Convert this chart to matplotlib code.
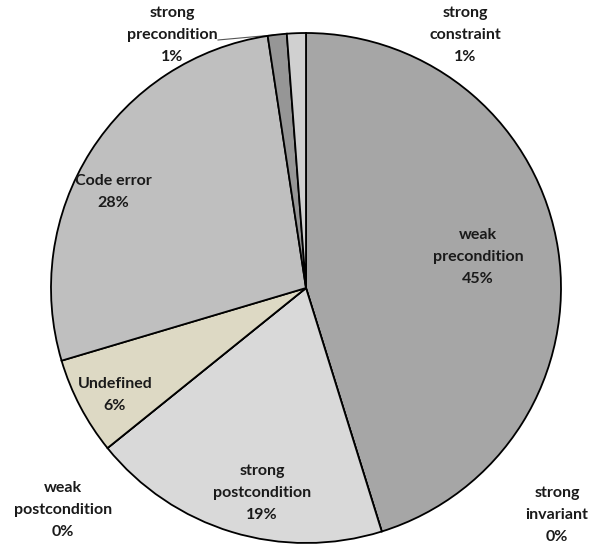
import numpy as np
from matplotlib import pyplot as plt

labels = ['weak\nprecondition', 'strong\ninvariant', 'strong\npostcondition', 'weak\npostcondition',
          'Undefined', 'Code error', 'strong\nprecondition', 'strong\nconstraint']
shares = [45.2, 0.0, 19.0, 0.0, 6.2, 27.2, 1.2, 1.2]
pct_text = ['45%', '0%', '19%', '0%', '6%', '28%', '1%', '1%']
colors = ['#a6a6a6', '#a6a6a6', '#d9d9d9', '#d9d9d9', '#ddd9c4', '#bfbfbf', '#969696', '#d0d0d0']

# label positions in pixels (figure is 589x545, axes cover it 1:1, y from bottom)
label_pos = [(478, 288), (557, 30), (262, 52), (63, 35), (115, 150), (113, 353), (172, 510), (465, 510)]

W, H = 589, 545
CX, CY, R = 306, H - 288, 255


def main():
    fig = plt.figure(figsize=(W / 100, H / 100), dpi=100)
    ax = fig.add_axes([0, 0, 1, 1])

    wedges, _ = ax.pie(shares, colors=colors, startangle=90, counterclock=False,
                       center=(CX, CY), radius=R,
                       wedgeprops=dict(edgecolor='black', linewidth=1.3))

    ax.set_xlim(0, W)
    ax.set_ylim(0, H)
    ax.set_aspect('equal')
    ax.axis('off')

    for lab, pct, (x, y) in zip(labels, pct_text, label_pos):
        ax.text(x, y, f'{lab}\n{pct}', ha='center', va='center', fontsize=11.5,
                fontweight='bold', family=['Lato', 'DejaVu Sans'], color='#1a1a1a',
                linespacing=1.75)

    # leader line for strong precondition
    w = wedges[6]
    mid = np.deg2rad((w.theta1 + w.theta2) / 2)
    ex, ey = CX + R * np.cos(mid), CY + R * np.sin(mid)
    ax.plot([218, ex], [H - 40, ey], color='#555555', linewidth=0.8, zorder=0)

    fig.savefig('out.png', dpi=100)
    plt.close(fig)


if __name__ == '__main__':
    main()
